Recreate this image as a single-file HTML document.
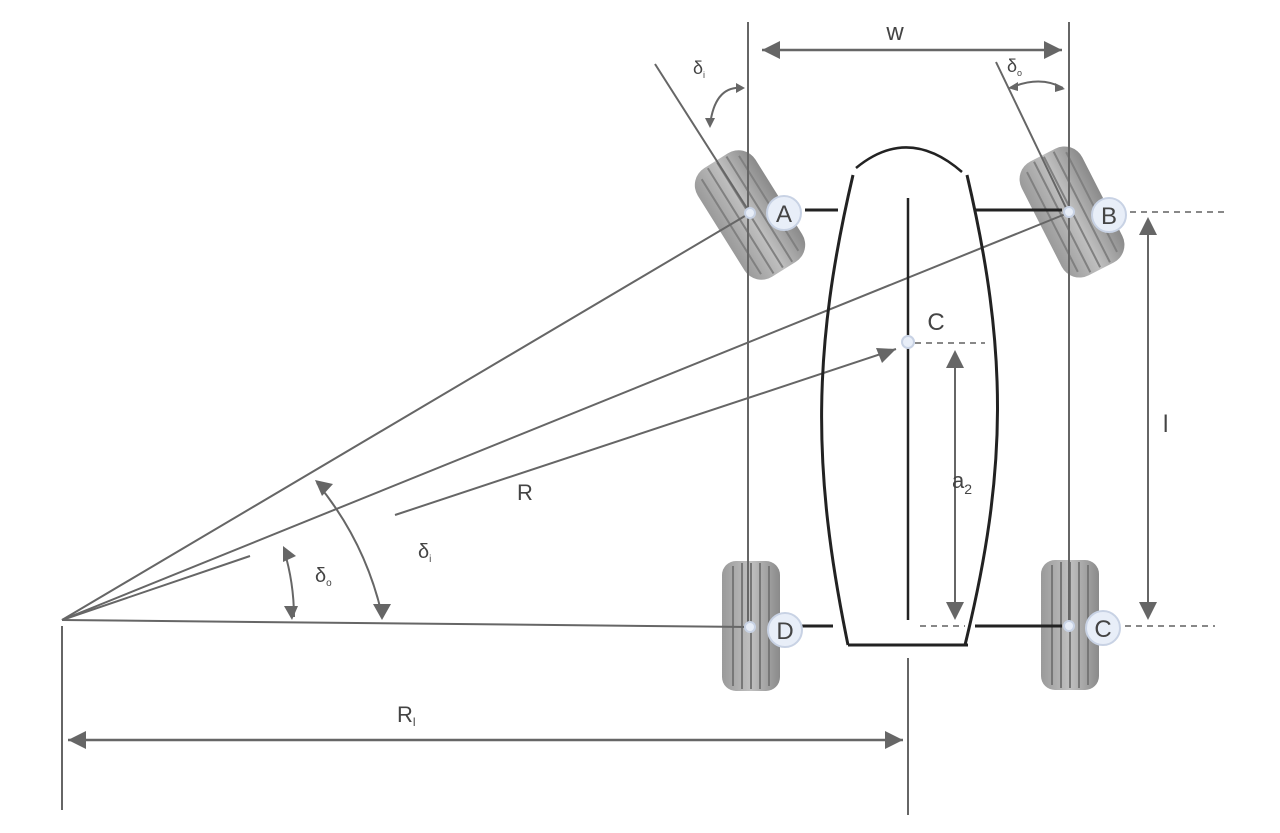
<!DOCTYPE html>
<html><head><meta charset="utf-8"><style>
html,body{margin:0;padding:0;background:#fff;}
svg{display:block;}
text{font-family:"Liberation Sans","DejaVu Sans",sans-serif;fill:#444;}
</style></head><body>
<svg width="1280" height="833" viewBox="0 0 1280 833" xmlns="http://www.w3.org/2000/svg">
<defs>
<linearGradient id="tg" x1="0" x2="1" y1="0" y2="0">
<stop offset="0" stop-color="#9a9a9a"/><stop offset="0.5" stop-color="#c0c0c0"/><stop offset="1" stop-color="#8a8a8a"/>
</linearGradient>
<g id="wheel">
<rect x="-29" y="-65" width="58" height="130" rx="14" fill="url(#tg)"/>
<g stroke="#777" stroke-width="2">
<line x1="-18" y1="-60" x2="-18" y2="60"/><line x1="-9" y1="-63" x2="-9" y2="63"/>
<line x1="0" y1="-63" x2="0" y2="63"/><line x1="9" y1="-63" x2="9" y2="63"/>
<line x1="18" y1="-60" x2="18" y2="60"/>
</g>
</g>
<g id="fwheel">
<rect x="-34" y="-64" width="68" height="128" rx="20" fill="url(#tg)"/>
<g stroke="#808080" stroke-width="2">
<line x1="-22" y1="-56" x2="-22" y2="56"/><line x1="-11" y1="-62" x2="-11" y2="62"/>
<line x1="0" y1="-62" x2="0" y2="62"/><line x1="11" y1="-62" x2="11" y2="62"/>
<line x1="22" y1="-56" x2="22" y2="56"/>
</g>
</g>
</defs>

<use href="#fwheel" transform="translate(750,215) rotate(-32)"/>
<use href="#fwheel" transform="translate(1072,212) rotate(-27)"/>
<use href="#wheel" transform="translate(751,626)"/>
<use href="#wheel" transform="translate(1070,625)"/>

<g stroke="#666" stroke-width="2" fill="none">
<line x1="748" y1="22" x2="748" y2="632"/>
<line x1="1069" y1="22" x2="1069" y2="632"/>
<line x1="62" y1="626" x2="62" y2="810"/>
<line x1="908" y1="658" x2="908" y2="815"/>
<line x1="655" y1="64" x2="750" y2="213"/>
<line x1="996" y1="62" x2="1068" y2="212"/>
<line x1="62" y1="620" x2="750" y2="213"/>
<line x1="62" y1="620" x2="1068" y2="213"/>
<line x1="62" y1="620" x2="250" y2="556"/>
<line x1="62" y1="620" x2="750" y2="627"/>
<line x1="395" y1="515" x2="896" y2="349"/>
<path d="M762,50 L1062,50" stroke-width="2.5"/>
<path d="M68,740 L903,740" stroke-width="2.5"/>
<line x1="955" y1="355" x2="955" y2="615"/>
<line x1="1148" y1="222" x2="1148" y2="615"/>
<path d="M317,483 A320,320 0 0 1 382,615"/>
<path d="M284,550 A232,232 0 0 1 294,617"/>
<path d="M743,88 Q715,85 710,125"/>
<path d="M1010,88 Q1040,75 1063,88"/>
</g>
<g fill="#666">
<path d="M762,50 l18,-9 v18z"/><path d="M1062,50 l-18,-9 v18z"/>
<path d="M68,740 l18,-9 v18z"/><path d="M903,740 l-18,-9 v18z"/>
<path d="M955,350 l-9,18 h18z"/><path d="M955,620 l-9,-18 h18z"/>
<path d="M1148,217 l-9,18 h18z"/><path d="M1148,620 l-9,-18 h18z"/>
<path d="M896,349 l-20,-1 l6,15z"/>
<path d="M315,480 l18,4 l-11,12z"/><path d="M382,620 l-9,-16 h18z"/>
<path d="M283,546 l13,10 l-13,6z"/><path d="M292,620 l-8,-14 l14,0z"/>
<path d="M745,88 l-9,-5 v10z"/><path d="M710,128 l-5,-10 h10z"/>
<path d="M1008,88 l10,-6 v9z"/><path d="M1065,89 l-10,-6 v9z"/>
</g>
<g stroke="#888" stroke-width="2" stroke-dasharray="6,5">
<line x1="1130" y1="212" x2="1225" y2="212"/>
<line x1="915" y1="343" x2="985" y2="343"/>
<line x1="920" y1="626" x2="965" y2="626"/>
<line x1="1125" y1="626" x2="1215" y2="626"/>
</g>
<g stroke="#222" stroke-width="3" fill="none">
<path d="M856,168 Q908,125 962,172" stroke-width="2.5"/>
<path d="M853,175 C812,350 812,470 848,645"/>
<path d="M967,175 C1008,350 1008,470 965,645"/>
<line x1="848" y1="645" x2="968" y2="645"/>
<line x1="908" y1="198" x2="908" y2="620" stroke-width="2.5"/>
<line x1="805" y1="210" x2="838" y2="210"/>
<line x1="975" y1="210" x2="1062" y2="210"/>
<line x1="792" y1="626" x2="833" y2="626"/>
<line x1="975" y1="626" x2="1062" y2="626"/>
</g>
<g fill="#e8eef8" stroke="#c8d2e4" stroke-width="2">
<circle cx="750" cy="213" r="5"/><circle cx="1069" cy="212" r="5"/>
<circle cx="750" cy="627" r="5"/><circle cx="1069" cy="626" r="5"/>
<circle cx="908" cy="342" r="6"/>
<circle cx="784" cy="213" r="17"/><circle cx="1109" cy="215" r="17"/>
<circle cx="785" cy="630" r="17"/><circle cx="1103" cy="628" r="17"/>
</g>
<text x="784" y="222" font-size="24" text-anchor="middle">A</text>
<text x="1109" y="224" font-size="24" text-anchor="middle">B</text>
<text x="785" y="639" font-size="24" text-anchor="middle">D</text>
<text x="1103" y="637" font-size="24" text-anchor="middle">C</text>
<text x="936" y="330" font-size="24" text-anchor="middle">C</text>
<text x="895" y="40" font-size="24" text-anchor="middle">w</text>
<text x="397" y="722" font-size="22">R<tspan font-size="12" dy="4">l</tspan></text>
<text x="517" y="500" font-size="22">R</text>
<text x="1163" y="432" font-size="24">l</text>
<text x="952" y="488" font-size="22">a<tspan font-size="14" dy="6">2</tspan></text>
<text x="418" y="558" font-size="20">δ<tspan font-size="10" dy="4">i</tspan></text>
<text x="315" y="582" font-size="20">δ<tspan font-size="10" dy="4">o</tspan></text>
<text x="693" y="74" font-size="18">δ<tspan font-size="9" dy="4">i</tspan></text>
<text x="1007" y="72" font-size="18">δ<tspan font-size="9" dy="4">o</tspan></text>
</svg>
</body></html>
